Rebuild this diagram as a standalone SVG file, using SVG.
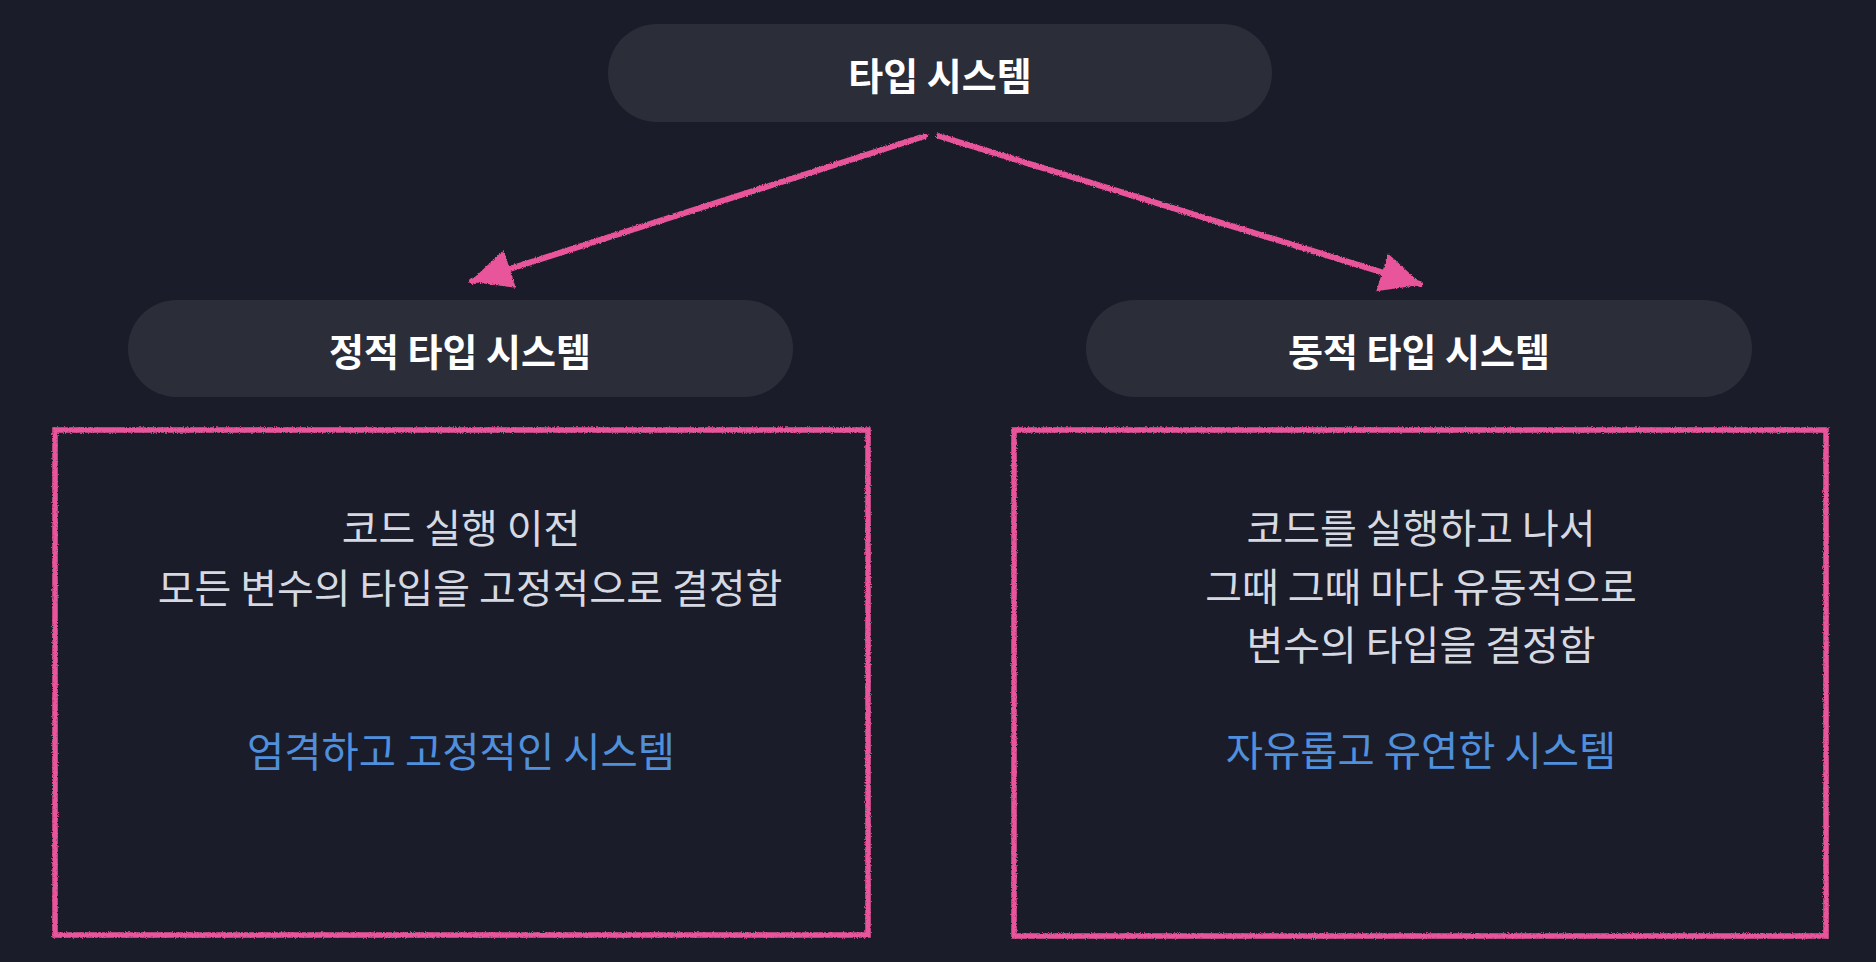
<svg xmlns="http://www.w3.org/2000/svg" width="1876" height="962" viewBox="0 0 1876 962">
  <style>
    .pill { fill: #2b2e38; }
    .title { font-family: "Noto Sans CJK KR", "Noto Sans", sans-serif; font-weight: 700; font-size: 38px; fill: #ffffff; text-anchor: middle; dominant-baseline: central; }
    .body { font-family: "Noto Sans CJK KR", "Noto Sans", sans-serif; font-weight: 400; font-size: 40px; fill: #d6d9e1; text-anchor: middle; dominant-baseline: central; }
    .accent { font-family: "Noto Sans CJK KR", "Noto Sans", sans-serif; font-weight: 400; font-size: 40.5px; fill: #4f8fdc; text-anchor: middle; dominant-baseline: central; }
    .chalk { fill: none; stroke: #e8559a; stroke-width: 5.5; }
    .conn { fill: none; stroke: #e8559a; stroke-width: 6; stroke-linecap: round; }
  </style>
  <defs>
    <filter id="rough" x="-5%" y="-5%" width="110%" height="110%">
      <feTurbulence type="fractalNoise" baseFrequency="0.9" numOctaves="2" seed="3" result="n"/>
      <feDisplacementMap in="SourceGraphic" in2="n" scale="3" xChannelSelector="R" yChannelSelector="G"/>
    </filter>
    <marker id="head" markerUnits="userSpaceOnUse" markerWidth="44" markerHeight="44" viewBox="0 0 40 40" refX="38" refY="20" orient="auto">
      <path d="M2,2 L40,20 L2,38 Z" fill="#e8559a"/>
    </marker>
  </defs>
  <rect width="1876" height="962" fill="#1b1c29"/>

  <g id="connectors" filter="url(#rough)">
    <line class="conn" x1="925" y1="136" x2="472" y2="281" marker-end="url(#head)"/>
    <line class="conn" x1="939" y1="136" x2="1420" y2="284" marker-end="url(#head)"/>
  </g>

  <g id="node-type-system">
    <rect class="pill" x="608" y="24" width="664" height="98" rx="49"/>
    <text class="title" x="940" y="73">타입 시스템</text>
  </g>

  <g id="node-static">
    <rect class="pill" x="128" y="300" width="665" height="97" rx="48.5"/>
    <text class="title" x="460" y="349">정적 타입 시스템</text>
  </g>

  <g id="node-dynamic">
    <rect class="pill" x="1086" y="300" width="666" height="97" rx="48.5"/>
    <text class="title" x="1419" y="349">동적 타입 시스템</text>
  </g>

  <g id="node-static-desc">
    <rect class="chalk" x="55" y="430" width="813" height="505" filter="url(#rough)"/>
    <text class="body" x="461" y="526">코드 실행 이전</text>
    <text class="body" x="470" y="586">모든 변수의 타입을 고정적으로 결정함</text>
    <text class="accent" x="461" y="749">엄격하고 고정적인 시스템</text>
  </g>

  <g id="node-dynamic-desc">
    <rect class="chalk" x="1014" y="430" width="812" height="506" filter="url(#rough)"/>
    <text class="body" x="1421" y="526">코드를 실행하고 나서</text>
    <text class="body" x="1421" y="585">그때 그때 마다 유동적으로</text>
    <text class="body" x="1421" y="643">변수의 타입을 결정함</text>
    <text class="accent" x="1421" y="748">자유롭고 유연한 시스템</text>
  </g>
</svg>
